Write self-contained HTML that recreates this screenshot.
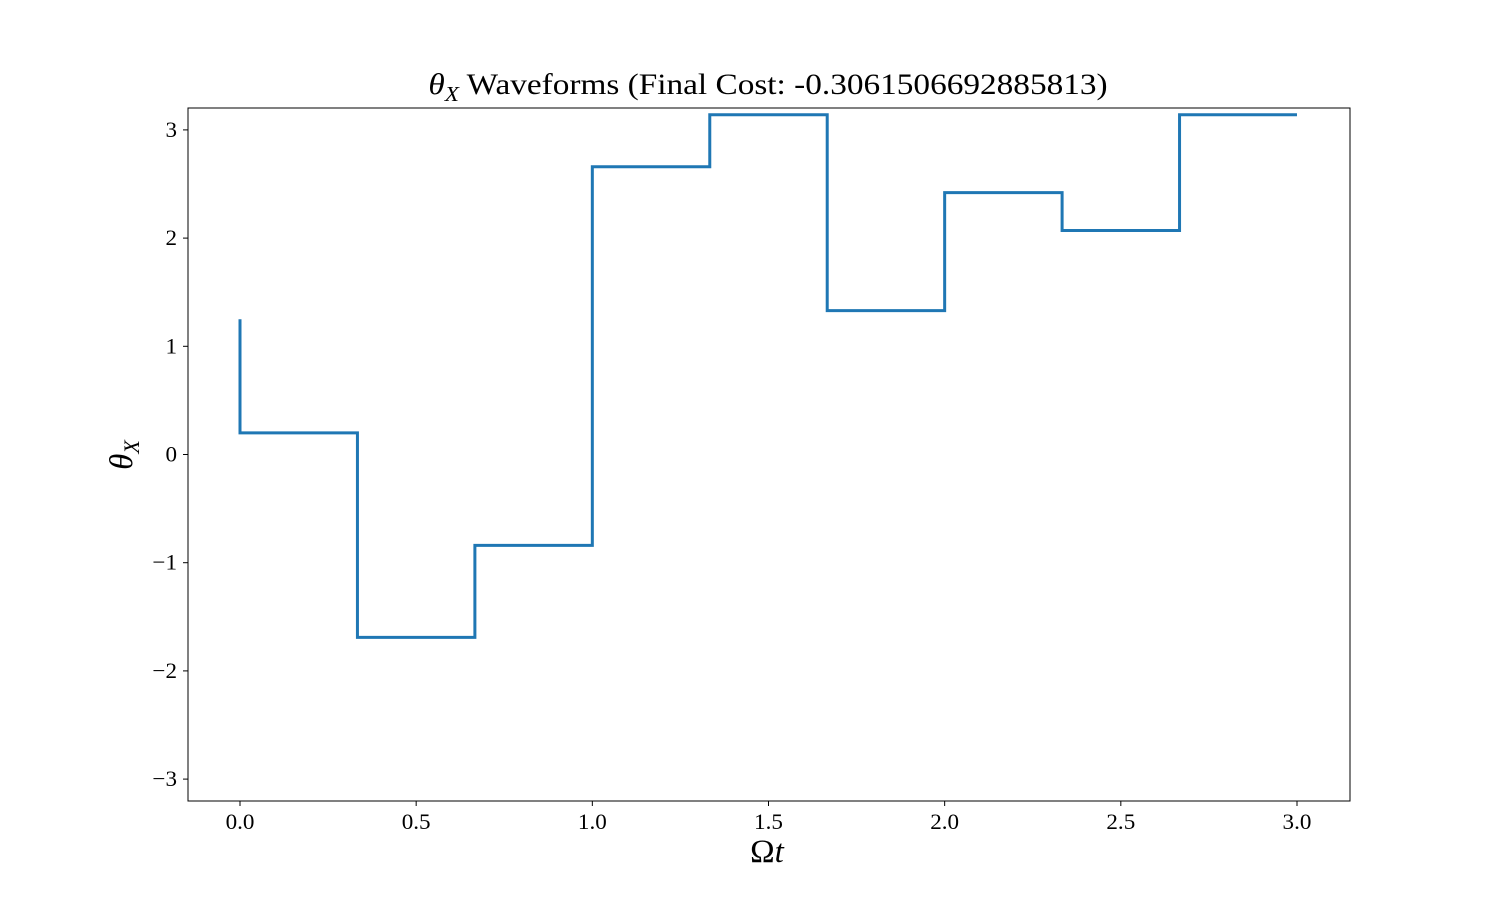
<!DOCTYPE html>
<html><head><meta charset="utf-8"><style>
body{margin:0;background:#fff;}
svg text{font-family:"Liberation Serif",serif;fill:#000;}
</style></head><body>
<svg id="chart" width="1500" height="900" xmlns="http://www.w3.org/2000/svg">
<rect width="1500" height="900" fill="#fff"/>
<text transform="translate(768,94) scale(1.11,1)" x="0" y="0" font-size="30" text-anchor="middle"><tspan font-style="italic">θ</tspan><tspan font-style="italic" font-size="21" dy="7">X</tspan><tspan dy="-7"> Waveforms (Final Cost: -0.3061506692885813)</tspan></text>
<g id="xticks"></g>
<g id="yticks"></g>
<path id="series" fill="none" stroke="#1f77b4" stroke-width="3" stroke-linejoin="miter"/>
<rect x="188" y="108" width="1162" height="693" fill="none" stroke="#000" stroke-width="1"/>
<text x="767" y="862" font-size="33" text-anchor="middle">Ω<tspan font-style="italic">t</tspan></text>
<text transform="translate(132,455) rotate(-90)" font-size="33" text-anchor="middle"><tspan font-style="italic">θ</tspan><tspan font-style="italic" font-size="22" dy="7">X</tspan></text>
</svg>
<script>
const xs=[0,1/3,2/3,1,4/3,5/3,2,7/3,8/3,3];
const values=[1.25,0.2,-1.69,-0.84,2.66,3.14,1.33,2.42,2.07,3.14];
const xTicks=[0,0.5,1,1.5,2,2.5,3];
const xTickLabels=["0.0","0.5","1.0","1.5","2.0","2.5","3.0"];
const yTicks=[-3,-2,-1,0,1,2,3];
const yTickLabels=["−3","−2","−1","0","1","2","3"];
const NS="http://www.w3.org/2000/svg";
const X=v=>240+v*352.33;
const Y=v=>454.5-v*108.2;
let d="M"+X(xs[0])+","+Y(values[0]);
for(let i=1;i<xs.length;i++){d+=" L"+X(xs[i-1])+","+Y(values[i])+" L"+X(xs[i])+","+Y(values[i]);}
document.getElementById('series').setAttribute('d',d);
const gx=document.getElementById('xticks');
xTicks.forEach((t,i)=>{
 const l=document.createElementNS(NS,'line');
 l.setAttribute('x1',X(t));l.setAttribute('x2',X(t));l.setAttribute('y1',801);l.setAttribute('y2',806);l.setAttribute('stroke','#000');
 
 
 gx.appendChild(l);
 const tx=document.createElementNS(NS,'text');
 tx.setAttribute('transform','translate('+X(t)+',829) scale(1.05,1)');
 tx.setAttribute('font-size','22');tx.setAttribute('text-anchor','middle');
 tx.textContent=xTickLabels[i];
 
 
 gx.appendChild(tx);
});
const gy=document.getElementById('yticks');
yTicks.forEach((t,i)=>{
 const l=document.createElementNS(NS,'line');
 l.setAttribute('x1',183);l.setAttribute('x2',188);l.setAttribute('y1',Y(t));l.setAttribute('y2',Y(t));l.setAttribute('stroke','#000');
 
 
 gy.appendChild(l);
 const tx=document.createElementNS(NS,'text');
 tx.setAttribute('transform','translate(177,'+(Y(t)+7)+') scale(1.05,1)');
 tx.setAttribute('font-size','22');tx.setAttribute('text-anchor','end');
 tx.textContent=yTickLabels[i];
 
 
 gy.appendChild(tx);
});
</script>
</body></html>
